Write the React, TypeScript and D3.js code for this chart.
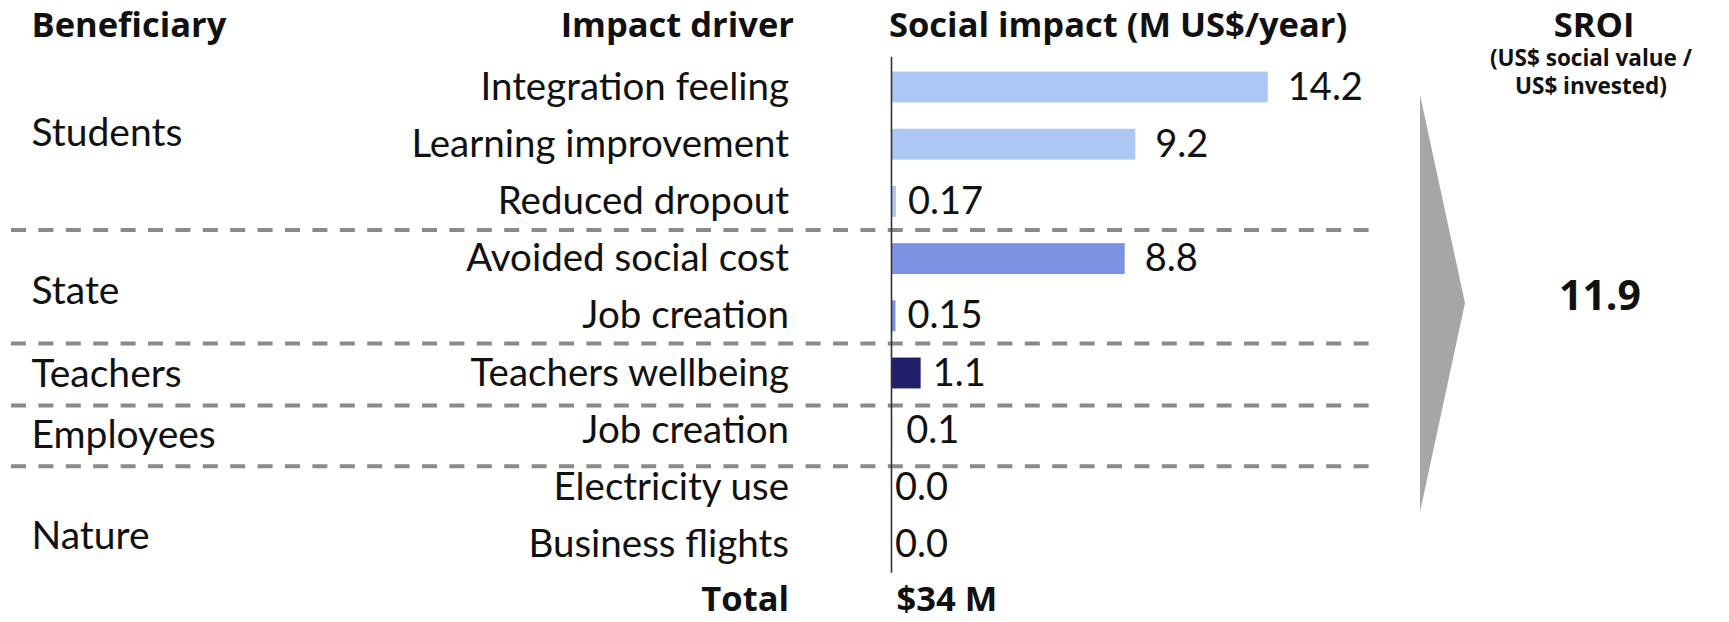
import React from "react";
import * as d3 from "d3";

// ---- data ----
const beneficiaries = ["Students", "State", "Teachers", "Employees", "Nature"];
const drivers = [
  "Integration feeling",
  "Learning improvement",
  "Reduced dropout",
  "Avoided social cost",
  "Job creation",
  "Teachers wellbeing",
  "Job creation",
  "Electricity use",
  "Business flights",
];
const driverGroup = [0, 0, 0, 1, 1, 2, 3, 4, 4];
const impactValues = [14.2, 9.2, 0.17, 8.8, 0.15, 1.1, 0.1, 0.0, 0.0];
const valueLabels = ["14.2", "9.2", "0.17", "8.8", "0.15", "1.1", "0.1", "0.0", "0.0"];
const groupColors = ["#adc7f5", "#7b93e0", "#1f1f6b", "#f7f9fe", "#adc7f5"];
const headerBeneficiary = "Beneficiary";
const headerDriver = "Impact driver";
const headerImpact = "Social impact (M US$/year)";
const headerSroi = "SROI";
const sroiSubtitle = ["(US$ social value /", "US$ invested)"];
const totalLabel = "Total";
const totalValue = "$34 M";
const sroiValue = "11.9";

// ---- layout (not data) ----
const W = 1729;
const H = 622;
const FONT = "Lato, 'Noto Sans', sans-serif";
const BOLD_FONT = "'Open Sans', 'Noto Sans', sans-serif";
const groupLabelNudge = [-11, 4.5, 1.7, 5, 20];
const separatorNudge = [0, -1, 4, 7.5];

export default function App() {
  const n = drivers.length;
  const y = d3
    .scaleBand<number>()
    .domain(d3.range(n))
    .range([58.4, 58.4 + n * 57.2])
    .paddingInner(0.46)
    .paddingOuter(0.23);
  const x = d3.scaleLinear().domain([0, 15]).range([891.5, 891.5 + 15 * 26.5]);
  const center = (i: number) => (y(i) as number) + y.bandwidth() / 2;
  const baseline = (i: number) => center(i) + 12.5;

  const groups = beneficiaries.map((name, g) => {
    const idx = driverGroup.map((d, i) => (d === g ? i : -1)).filter((i) => i >= 0);
    return { name, first: idx[0], last: idx[idx.length - 1] };
  });

  const labelGap = (v: number) => (v <= 0 ? 3.5 : v < 5 ? 12 : 20);

  const arrowTop = 95;
  const arrowBottom = 512;
  const arrowX = 1420;
  const arrowTip = 1465;
  const arrowPath = d3.line()([
    [arrowX, arrowTop],
    [arrowTip, (arrowTop + arrowBottom) / 2 - 0.5],
    [arrowX, arrowBottom],
  ]) + "Z";

  return (
    <svg
      width={W}
      height={H}
      style={{ position: "absolute", left: 0, top: 0, background: "#fff" }}
      fontFamily={FONT}
    >
      {/* headers */}
      <g fontFamily={BOLD_FONT} fontWeight={700} fontSize={34.5} fill="#111">
        <text x={31.5} y={37}>{headerBeneficiary}</text>
        <text x={794} y={37} textAnchor="end">{headerDriver}</text>
        <text x={889} y={37}>{headerImpact}</text>
        <text x={1594} y={37} textAnchor="middle">{headerSroi}</text>
      </g>
      <g fontFamily={BOLD_FONT} fontWeight={700} fontSize={22.5} fill="#111" textAnchor="middle">
        {sroiSubtitle.map((s, i) => (
          <text key={i} x={1591} y={66 + i * 28}>{s}</text>
        ))}
      </g>

      {/* separators */}
      {groups.slice(0, -1).map((g, k) => {
        const yy = (center(g.last) + center(g.last + 1)) / 2 + separatorNudge[k];
        return (
          <line
            key={"sep" + k}
            x1={11}
            x2={1373}
            y1={yy}
            y2={yy}
            stroke="#8a8a8a"
            strokeWidth={4}
            strokeDasharray="15 12.4"
          />
        );
      })}

      {/* beneficiary labels */}
      <g fontSize={39} fill="#111">
        {groups.map((g, k) => (
          <text key={"b" + k} x={31.5} y={(baseline(g.first) + baseline(g.last)) / 2 + groupLabelNudge[k]}>
            {g.name}
          </text>
        ))}
      </g>

      {/* driver labels */}
      <g fontSize={38.5} fill="#111" textAnchor="end">
        {drivers.map((d, i) => (
          <text key={"d" + i} x={789} y={baseline(i)}>{d}</text>
        ))}
      </g>

      {/* bars */}
      {impactValues.map((v, i) => (
        <rect
          key={"r" + i}
          x={x(0)}
          y={y(i)}
          width={Math.max(0, x(v) - x(0))}
          height={y.bandwidth()}
          fill={groupColors[driverGroup[i]]}
        />
      ))}

      {/* value labels */}
      <g fontSize={38} fill="#111">
        {impactValues.map((v, i) => (
          <text key={"v" + i} x={x(v) + labelGap(v)} y={baseline(i)}>{valueLabels[i]}</text>
        ))}
      </g>

      {/* axis line */}
      <line x1={x(0)} x2={x(0)} y1={56.7} y2={572.7} stroke="#333" strokeWidth={1.6} />

      {/* total row */}
      <g fontFamily={BOLD_FONT} fontWeight={700} fontSize={34.5} fill="#111">
        <text x={789} y={611} textAnchor="end">{totalLabel}</text>
        <text x={896.5} y={611}>{totalValue}</text>
      </g>

      {/* arrow */}
      <path d={arrowPath} fill="#a6a6a6" />

      {/* SROI value */}
      <text
        x={1600}
        y={310}
        textAnchor="middle"
        fontFamily={BOLD_FONT}
        fontWeight={700}
        fontSize={41}
        fill="#111"
      >
        {sroiValue}
      </text>
    </svg>
  );
}
